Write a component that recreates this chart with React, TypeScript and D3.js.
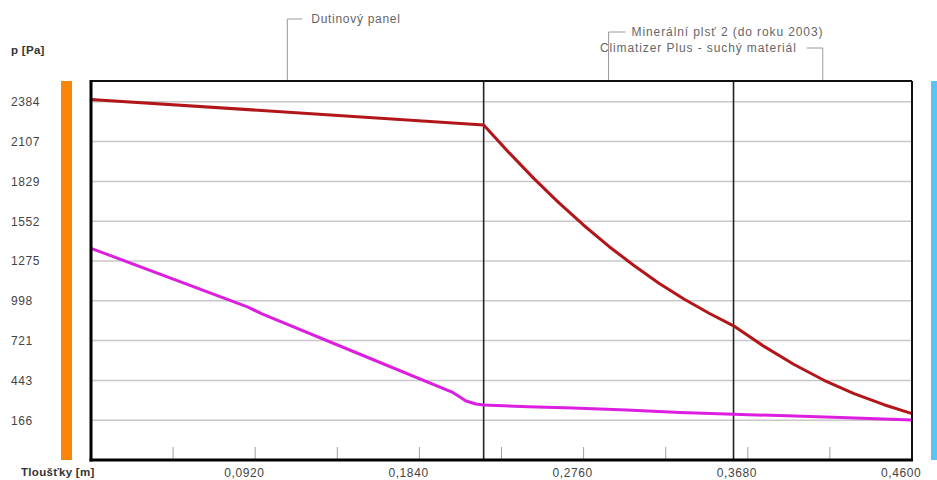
import React from "react";
import * as d3 from "d3";

// ---- data ----
const yTicks = [166, 443, 721, 998, 1275, 1552, 1829, 2107, 2384];
const xLabelTicks = [0.092, 0.184, 0.276, 0.368, 0.46];
const xLabelTexts = ["0,0920", "0,1840", "0,2760", "0,3680", "0,4600"];
const xMinorTicks = [0.046, 0.092, 0.138, 0.184, 0.23, 0.276, 0.322, 0.368, 0.414];
const layerBounds = [0.22, 0.36];
const layerNames = ["Dutinový panel", "Minerální plsť 2 (do roku 2003)", "Climatizer Plus - suchý materiál"];
const layerMids = [0.11, 0.29, 0.41];

const redX = [0, 0.22, 0.2342, 0.2482, 0.2622, 0.2762, 0.2902, 0.3042, 0.3182, 0.3322, 0.3463, 0.36, 0.3771, 0.3939, 0.4107, 0.4275, 0.4443, 0.46];
const redP = [2400, 2222, 2029, 1848, 1679, 1522, 1376, 1243, 1120, 1010, 911, 823, 680, 554, 444, 351, 274, 212];

const magX = [0, 0.088, 0.0958, 0.149, 0.2023, 0.2101, 0.2157, 0.22, 0.245, 0.27, 0.3, 0.33, 0.36, 0.39, 0.42, 0.46];
const magP = [1363, 954, 906, 634, 362, 300, 279, 272, 260, 251, 238, 220, 207, 197, 185, 168];

const W = 937;
const H = 480;
const L = 91, R = 912, T = 81, B = 460;

export default function App() {
  const x = d3.scaleLinear().domain([0, 0.46]).range([L, R]);
  const y = d3.scaleLinear().domain([-111, 2528]).range([B, T]);
  const line = d3.line<[number, number]>().x((d) => x(d[0])).y((d) => y(d[1]));
  const redPts = redX.map((v, i) => [v, redP[i]] as [number, number]);
  const magPts = magX.map((v, i) => [v, magP[i]] as [number, number]);
  const font = "'Liberation Sans', Arial, sans-serif";
  const annY = [19, 32, 48];

  return (
    <svg width={W} height={H} style={{ position: "absolute", left: 0, top: 0, background: "#fff" }} fontFamily={font}>
      <rect x={0} y={0} width={W} height={H} fill="#fff" />
      {/* side color bars */}
      <rect x={61} y={T} width={11} height={B - T} fill="#fb8507" />
      <rect x={931} y={T} width={8} height={B - T} fill="#5cc3f6" />

      {/* gridlines */}
      {yTicks.map((t) => (
        <line key={t} x1={L} x2={R} y1={y(t)} y2={y(t)} stroke="#c8c8c8" strokeWidth={1.5} />
      ))}
      {/* minor x ticks */}
      {xMinorTicks.map((t) => (
        <line key={t} x1={x(t)} x2={x(t)} y1={447} y2={B - 1} stroke="#a0a0a0" strokeWidth={1} />
      ))}

      {/* layer boundaries */}
      {layerBounds.map((b) => (
        <line key={b} x1={x(b)} x2={x(b)} y1={T} y2={B} stroke="#222" strokeWidth={1.6} />
      ))}

      {/* annotation brackets */}
      <path d={`M${x(layerMids[0])},${T}V${annY[0]}H${x(layerMids[0]) + 15}`} fill="none" stroke="#9a9a9a" strokeWidth={1} />
      <path d={`M${x(layerMids[1])},${T}V${annY[1]}H${x(layerMids[1]) + 17}`} fill="none" stroke="#9a9a9a" strokeWidth={1} />
      <path d={`M${x(layerMids[2])},${T}V${annY[2]}H${x(layerMids[2]) - 16}`} fill="none" stroke="#9a9a9a" strokeWidth={1} />
      <text x={x(layerMids[0]) + 24} y={annY[0] + 4} fontSize={12} letterSpacing={0.7} fill="#666">{layerNames[0]}</text>
      <text x={x(layerMids[1]) + 23} y={annY[1] + 4} fontSize={12} letterSpacing={0.9} fill="#666">{layerNames[1]}</text>
      <text x={x(layerMids[2]) - 26} y={annY[2] + 4} fontSize={12} letterSpacing={0.9} fill="#666" textAnchor="end">{layerNames[2]}</text>

      {/* data lines */}
      <path d={line(redPts) || ""} fill="none" stroke="#b3161a" strokeWidth={3} strokeLinejoin="round" />
      <path d={line(magPts) || ""} fill="none" stroke="#dc1ee0" strokeWidth={3} strokeLinejoin="round" />

      {/* plot frame */}
      <line x1={L} x2={R} y1={T} y2={T} stroke="#111" strokeWidth={2} />
      <line x1={R} x2={R} y1={T} y2={B} stroke="#111" strokeWidth={2} />
      <line x1={L} x2={L} y1={T - 1} y2={B + 1.5} stroke="#000" strokeWidth={3} />
      <line x1={L - 1.5} x2={R + 1} y1={B} y2={B} stroke="#000" strokeWidth={3} />

      {/* y tick labels */}
      {yTicks.map((t) => (
        <text key={t} x={11} y={y(t) + 4.5} fontSize={12} letterSpacing={0.6} fill="#444">{t}</text>
      ))}
      {/* x tick labels */}
      {xLabelTicks.map((t, i) => (
        <text key={t} x={x(t) - 31} y={477} fontSize={12} letterSpacing={0.6} fill="#444">{xLabelTexts[i]}</text>
      ))}

      {/* axis titles */}
      <text x={11} y={54} fontSize={11.5} fontWeight="bold" fill="#333" letterSpacing={0.3}>p [Pa]</text>
      <text x={21} y={476} fontSize={11.5} fontWeight="bold" fill="#333" letterSpacing={0.3}>Tloušťky [m]</text>
    </svg>
  );
}
